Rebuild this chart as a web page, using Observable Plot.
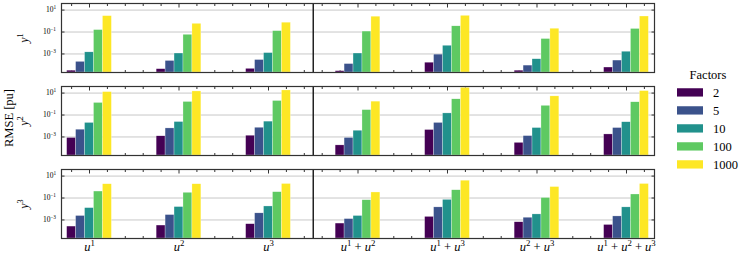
<!DOCTYPE html>
<html><head><meta charset="utf-8">
<script src="https://cdn.jsdelivr.net/npm/d3@7"></script>
<script src="https://cdn.jsdelivr.net/npm/@observablehq/plot@0.6"></script>
<style>
html,body{margin:0;padding:0;background:#fff;}
#chart{position:relative;width:748px;height:259px;}
#chart svg{font-family:"Liberation Serif","Times New Roman",serif;}
</style></head><body><div id="chart"></div>
<script>
// ---- data ----
const groups = ["u^1", "u^2", "u^3", "u^1 + u^2", "u^1 + u^3", "u^2 + u^3", "u^1 + u^2 + u^3"];
const factors = [2, 5, 10, 100, 1000];
const outputs = ["y^1", "y^2", "y^3"];
// RMSE per group (rows) for factors 2, 5, 10, 100, 1000
const rmseY1 = [
  [3.0e-5, 1.9e-4, 1.4e-3, 0.15, 2.8],
  [4.1e-5, 2.3e-4, 1.1e-3, 0.056, 0.56],
  [4.4e-5, 2.8e-4, 1.2e-3, 0.12, 0.71],
  [2.7e-5, 1.2e-4, 1.1e-3, 0.11, 2.5],
  [1.6e-4, 8.7e-4, 5.6e-3, 0.33, 3.0],
  [3.0e-5, 8.7e-5, 3.3e-4, 0.023, 0.20],
  [5.8e-5, 2.5e-4, 1.6e-3, 0.19, 2.6]
];
const rmseY2 = [
  [8.1e-4, 4.6e-3, 0.019, 1.26, 12.3],
  [1.15e-3, 6.0e-3, 0.023, 1.55, 14.1],
  [1.3e-3, 6.9e-3, 0.025, 1.9, 17.4],
  [1.7e-4, 8.1e-4, 3.7e-3, 0.28, 1.66],
  [4.3e-3, 0.019, 0.14, 2.7, 30],
  [2.9e-4, 1.2e-3, 6.5e-3, 0.69, 5.0],
  [1.7e-3, 6.5e-3, 0.022, 1.45, 15.1]
];
const rmseY3 = [
  [2.5e-4, 2.3e-3, 0.012, 0.39, 1.8],
  [3.1e-4, 2.8e-3, 0.015, 0.30, 1.8],
  [4.1e-4, 4.0e-3, 0.017, 0.34, 1.9],
  [4.7e-4, 1.2e-3, 2.3e-3, 0.063, 0.32],
  [1.9e-3, 0.014, 0.068, 0.51, 3.8],
  [6.2e-4, 1.6e-3, 3.2e-3, 0.10, 1.0],
  [3.5e-4, 2.1e-3, 0.014, 0.21, 1.9]
];
const yTicks = [10, 0.1, 0.001];
const yTickLabels = ["10^1", "10^−1", "10^−3"];
const yLabel = "RMSE [pu]";
const legendTitle = "Factors";

// ---- build table ----
const rowsData = [rmseY1, rmseY2, rmseY3];
const data = [];
outputs.forEach((o, r) => groups.forEach((g, gi) => factors.forEach((f, fi) =>
  data.push({output: o, group: g, gi, factor: f, fi, value: rowsData[r][gi][fi]}))));

const yDomain = [10 ** -4.69, 10 ** 1.6];
const barW = 0.1, groupHalf = 0.25;
const major = d3.range(groups.length);
const minor = d3.range(-1, 32).map(k => +(k * 0.2).toFixed(1)).filter(v => !Number.isInteger(v));
const tickStroke = "#333";
const FONT = "'Liberation Serif', 'Times New Roman', serif";

const plot = Plot.plot({
  width: 748, height: 259,
  marginTop: 3, marginBottom: 20, marginLeft: 61, marginRight: 94,
  style: {fontFamily: FONT, fontSize: "8px", color: "#000", background: "#fff"},
  x: {domain: [-0.313, 6.313]},
  y: {type: "log", domain: yDomain},
  fy: {domain: outputs, axis: null, paddingInner: 0.164, paddingOuter: 0},
  color: {type: "ordinal", domain: factors, scheme: "viridis"},
  marks: [
    Plot.gridY(yTicks, {stroke: "#c8c8c8", strokeOpacity: 1, strokeWidth: 1}),
    // inward x ticks (major + minor), top and bottom
    Plot.axisX(major, {anchor: "top", tickSize: 3.5, insetTop: 3.5, fill: "none", stroke: tickStroke, label: null, facetAnchor: null}),
    Plot.axisX(major, {anchor: "bottom", tickSize: 3.5, insetBottom: 3.5, fill: "none", stroke: tickStroke, label: null, facetAnchor: null}),
    Plot.axisX(minor, {anchor: "top", tickSize: 2, insetTop: 2, fill: "none", stroke: tickStroke, label: null, facetAnchor: null}),
    Plot.axisX(minor, {anchor: "bottom", tickSize: 2, insetBottom: 2, fill: "none", stroke: tickStroke, label: null, facetAnchor: null}),
    // inward y ticks left/right
    Plot.axisY(yTicks, {anchor: "left", tickSize: 3.5, insetLeft: 3.5, fill: "none", stroke: tickStroke, label: null}),
    Plot.axisY(yTicks, {anchor: "right", tickSize: 3.5, insetRight: 3.5, fill: "none", stroke: tickStroke, label: null}),
    // bars
    Plot.rectY(data, {
      x1: d => d.gi - groupHalf + d.fi * barW,
      x2: d => d.gi - groupHalf + (d.fi + 1) * barW,
      y1: yDomain[0], y2: "value", fy: "output", fill: "factor",
      stroke: "white", strokeWidth: 0.4, strokeOpacity: 0.7
    }),
    Plot.ruleX([2.5], {stroke: "#222", strokeWidth: 1.5}),
    Plot.frame({stroke: "#333", strokeWidth: 1.2}),
    // y tick labels
    Plot.axisY(yTicks, {anchor: "left", tickSize: 0, tickPadding: 5.5, fontSize: 7.5,
      tickFormat: d => yTickLabels[yTicks.indexOf(d)], label: null}),
    // x group labels
    Plot.axisX(major, {anchor: "bottom", tickSize: 0, tickPadding: 3.5, fontSize: 12.5,
      tickFormat: i => groups[i], label: null}),
    // row labels
    Plot.text(outputs, {fy: d => d, text: d => d, frameAnchor: "left", dx: -37.5, rotate: -90, fontSize: 12, textAnchor: "middle"}),
    Plot.text([yLabel], {fy: () => outputs[1], text: d => d, frameAnchor: "left", dx: -52.5, dy: -3, rotate: -90, fontSize: 12.5, textAnchor: "middle"})
  ]
});

document.getElementById("chart").appendChild(plot);

// ---- math-like superscripts ----
const NS = "http://www.w3.org/2000/svg";
function mathify(el) {
  const s = el.textContent;
  if (!s.includes("^")) return;
  const size = parseFloat(getComputedStyle(el).fontSize) || 10;
  const rise = size * 0.42, sup = size * 0.7;
  while (el.firstChild) el.removeChild(el.firstChild);
  const re = /\^([^\s]+)|([A-Za-z]+)|([^A-Za-z^]+)/g;
  let m, raised = false;
  while ((m = re.exec(s))) {
    const t = document.createElementNS(NS, "tspan");
    if (m[1]) {
      t.textContent = m[1];
      t.setAttribute("font-size", sup);
      t.setAttribute("font-style", "normal");
      t.setAttribute("dy", -rise);
      raised = true;
    } else {
      t.textContent = m[2] || m[3];
      if (raised) { t.setAttribute("dy", rise); raised = false; }
      t.setAttribute("font-style", m[2] ? "italic" : "normal");
    }
    el.appendChild(t);
  }
}
plot.style.whiteSpace = "pre";
plot.querySelectorAll("text").forEach(mathify);

// ---- legend ----
const color = plot.scale("color");
const lg = d3.select(plot).append("g")
  .attr("font-family", FONT).attr("font-size", 12.5).attr("fill", "#000");
lg.append("text").attr("x", 708).attr("y", 79).attr("text-anchor", "middle").text(legendTitle);
factors.forEach((f, i) => {
  const cy = 92.4 + i * 18;
  lg.append("rect").attr("x", 677).attr("y", cy - 4.15).attr("width", 26).attr("height", 8.3).attr("fill", color.apply(f));
  lg.append("text").attr("x", 713).attr("y", cy).attr("dy", "0.35em").attr("text-anchor", "start").text(String(f));
});
</script>
</body></html>
